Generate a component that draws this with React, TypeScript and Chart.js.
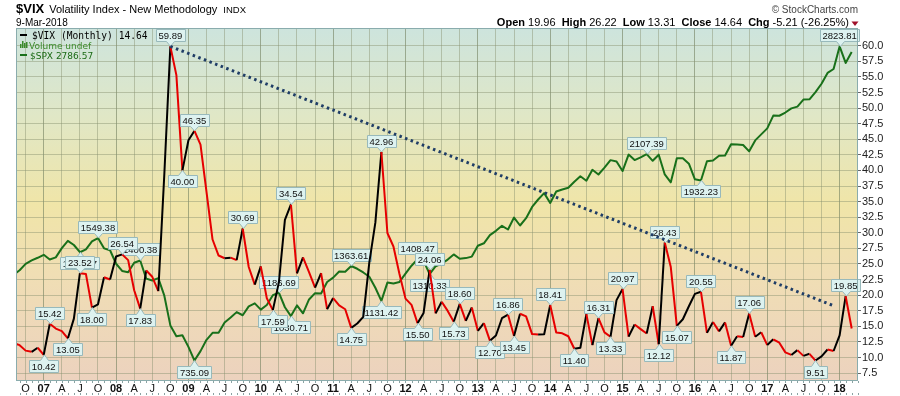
import React, { useEffect, useRef } from "react";
import { Chart, registerables } from "chart.js";
Chart.register(...registerables);

// Monthly closes, Aug 2006 .. Mar 2018 (index 0 = Aug 2006)
const vixValues = [
  12.31, 11.98, 11.10, 10.91, 11.56,
  10.42, 15.42, 14.64, 14.22, 13.05, 16.23, 23.52, 23.38, 18.00, 18.53, 22.87, 22.50,
  26.20, 26.54, 25.61, 20.79, 17.83, 23.95, 22.94, 20.65, 39.39, 59.89, 55.28, 40.00,
  44.84, 46.35, 44.14, 36.50, 28.92, 26.35, 25.92, 26.01, 25.61, 30.69, 24.51, 21.68,
  24.62, 19.50, 17.59, 22.05, 32.07, 34.54, 23.50, 26.05, 23.70, 21.20, 23.54, 17.75,
  19.53, 18.35, 17.74, 14.75, 15.45, 16.52, 25.25, 31.62, 42.96, 29.96, 27.80, 23.40,
  19.44, 18.43, 15.50, 17.15, 24.06, 17.08, 18.93, 17.47, 15.73, 18.60, 15.87, 18.02,
  14.28, 15.51, 12.70, 13.52, 16.30, 16.86, 13.45, 17.01, 16.60, 13.75, 13.70, 13.72,
  18.41, 14.00, 13.88, 13.41, 11.40, 11.57, 16.95, 11.98, 16.31, 14.03, 13.33, 19.20,
  20.97, 13.34, 15.29, 14.55, 13.84, 18.23, 12.12, 28.43, 24.50, 15.07, 16.13, 18.21,
  20.20, 20.55, 13.95, 15.70, 14.19, 15.63, 11.87, 13.42, 13.29, 17.06, 13.33, 14.04,
  11.99, 12.92, 12.37, 10.82, 10.41, 11.18, 10.26, 10.59, 9.51, 10.18, 11.28, 11.04,
  13.54, 19.85, 14.64,
];

const spxValues = [
  1303.82, 1335.85, 1377.94, 1400.63, 1418.30,
  1438.24, 1406.82, 1420.86, 1482.37, 1530.62, 1503.35, 1455.27, 1473.99, 1526.75, 1549.38, 1481.14, 1468.36,
  1378.55, 1330.63, 1322.70, 1385.59, 1400.38, 1280.00, 1267.38, 1282.83, 1166.36, 968.75, 896.24, 903.25,
  825.88, 735.09, 797.87, 872.81, 919.14, 919.32, 987.48, 1020.62, 1057.08, 1036.19, 1095.63, 1115.10,
  1073.87, 1104.49, 1169.43, 1186.69, 1089.41, 1030.71, 1101.60, 1049.33, 1141.20, 1183.26, 1180.55, 1257.64,
  1286.12, 1327.22, 1325.83, 1363.61, 1345.20, 1320.64, 1292.28, 1218.89, 1131.42, 1253.30, 1246.96, 1257.60,
  1312.41, 1365.68, 1408.47, 1397.91, 1310.33, 1362.16, 1379.32, 1406.58, 1440.67, 1412.16, 1416.18, 1426.19,
  1498.11, 1514.68, 1569.19, 1597.57, 1630.74, 1606.28, 1685.73, 1632.97, 1681.55, 1756.54, 1805.81, 1848.36,
  1782.59, 1859.45, 1872.34, 1883.95, 1923.57, 1960.23, 1930.67, 2003.37, 1972.29, 2018.05, 2067.56, 2058.90,
  1994.99, 2104.50, 2067.89, 2085.51, 2107.39, 2063.11, 2103.84, 1972.18, 1920.03, 2079.36, 2080.41, 2043.94,
  1940.24, 1932.23, 2059.74, 2065.30, 2096.95, 2098.86, 2173.60, 2170.95, 2168.27, 2126.15, 2198.81, 2238.83,
  2278.87, 2363.64, 2362.72, 2384.20, 2411.80, 2423.41, 2470.30, 2471.65, 2519.36, 2575.26, 2647.58, 2673.61,
  2823.81, 2713.83, 2786.57,
];

// Annotated highs (a) and lows (b): [index, position]
const vixTags: [number, "a" | "b"][] = [
  [5, "b"], [6, "a"], [9, "b"], [11, "a"], [13, "b"], [18, "a"], [21, "b"], [26, "a"], [28, "b"],
  [30, "a"], [38, "a"], [43, "b"], [46, "a"], [56, "b"], [61, "a"], [67, "b"], [69, "a"], [73, "b"],
  [74, "a"], [79, "b"], [82, "a"], [83, "b"], [89, "a"], [93, "b"], [97, "a"], [99, "b"], [101, "a"],
  [107, "b"], [108, "a"], [110, "b"], [114, "a"], [119, "b"], [122, "a"], [133, "b"], [138, "a"],
];
const spxTags: [number, "a" | "b"][] = [
  [11, "b"], [14, "a"], [21, "a"], [30, "b"], [44, "a"], [46, "b"], [56, "a"], [61, "b"],
  [67, "a"], [69, "b"], [105, "a"], [114, "b"], [137, "a"],
];

// Trend line endpoints [index, value]
const trendPoints: [number, number][] = [[26, 59.89], [136, 18.3]];

const xTickStart = 2; // Oct 2006
const xTickLabels = [
  "O", "07", "A", "J", "O", "08", "A", "J", "O", "09", "A", "J", "O", "10", "A", "J",
  "O", "11", "A", "J", "O", "12", "A", "J", "O", "13", "A", "J", "O", "14", "A", "J",
  "O", "15", "A", "J", "O", "16", "A", "J", "O", "17", "A", "J", "O", "18",
];
const yTickValues = [
  7.5, 10, 12.5, 15, 17.5, 20, 22.5, 25, 27.5, 30, 32.5, 35, 37.5, 40, 42.5, 45, 47.5, 50, 52.5, 55, 57.5, 60,
];

const titleSymbol = "$VIX";
const titleName = "Volatility Index - New Methodology";
const titleExchange = "INDX";
const titleDate = "9-Mar-2018";
const ohlc: [string, string][] = [
  ["Open", "19.96"], ["High", "26.22"], ["Low", "13.31"], ["Close", "14.64"], ["Chg", "-5.21 (-26.25%)"],
];
const legendVix = "$VIX (Monthly) 14.64";
const legendVol = "Volume undef";
const legendSpx = "$SPX 2786.57";

const Y_MIN = 6.39;
const Y_MAX = 62.84;
const vixMin = Math.min(...vixValues);
const vixMax = Math.max(...vixValues);
const spxMin = Math.min(...spxValues);
const spxMax = Math.max(...spxValues);
const k = (spxMax - spxMin) / (vixMax - vixMin);
const Y2_MIN = spxMin - (vixMin - Y_MIN) * k;
const Y2_MAX = spxMax + (Y_MAX - vixMax) * k;

const SANS = '"Liberation Sans", Arial, sans-serif';
const GREEN = "#19701a";
const RED = "#e60000";

function drawTag(ctx: CanvasRenderingContext2D, px: number, py: number, text: string, above: boolean) {
  ctx.save();
  ctx.font = `9.5px ${SANS}`;
  const tw = ctx.measureText(text).width;
  const w = Math.round(tw + 5);
  const h = 12;
  const ph = 5;
  const cx = Math.round(px) + 0.5;
  const left = Math.round(px - w / 2) + 0.5;
  const top = above ? Math.round(py - ph - h) + 0.5 : Math.round(py + ph) + 0.5;
  const bottom = top + h;
  ctx.beginPath();
  if (above) {
    ctx.moveTo(left, top);
    ctx.lineTo(left + w, top);
    ctx.lineTo(left + w, bottom);
    ctx.lineTo(cx + 4, bottom);
    ctx.lineTo(cx, py);
    ctx.lineTo(cx - 4, bottom);
    ctx.lineTo(left, bottom);
  } else {
    ctx.moveTo(left, top);
    ctx.lineTo(cx - 4, top);
    ctx.lineTo(cx, py);
    ctx.lineTo(cx + 4, top);
    ctx.lineTo(left + w, top);
    ctx.lineTo(left + w, bottom);
    ctx.lineTo(left, bottom);
  }
  ctx.closePath();
  ctx.fillStyle = "#ddf2f0";
  ctx.fill();
  ctx.strokeStyle = "#98b9bb";
  ctx.lineWidth = 1;
  ctx.stroke();
  ctx.fillStyle = "#111";
  ctx.textAlign = "center";
  ctx.textBaseline = "middle";
  ctx.fillText(text, px, top + h / 2 + 0.5);
  ctx.restore();
}

const decorPlugin = {
  id: "decor",
  beforeDraw(chart: any) {
    const { ctx, chartArea: a } = chart;
    ctx.save();
    const g = ctx.createLinearGradient(0, a.top, 0, a.bottom);
    g.addColorStop(0, "rgb(205,228,221)");
    g.addColorStop(0.25, "rgb(224,231,198)");
    g.addColorStop(0.5, "rgb(240,229,168)");
    g.addColorStop(0.7, "rgb(240,222,180)");
    g.addColorStop(1, "rgb(236,210,190)");
    ctx.fillStyle = g;
    ctx.fillRect(a.left, a.top, a.right - a.left, a.bottom - a.top);

    // header
    ctx.fillStyle = "#000";
    ctx.textBaseline = "alphabetic";
    ctx.textAlign = "left";
    ctx.font = `bold 13px ${SANS}`;
    ctx.fillText(titleSymbol, 16, 13);
    let x = 16 + ctx.measureText(titleSymbol).width + 5;
    ctx.font = `11px ${SANS}`;
    ctx.fillText(titleName, x, 13);
    x += ctx.measureText(titleName).width + 6;
    ctx.font = `9.5px ${SANS}`;
    ctx.fillText(titleExchange, x, 13);
    ctx.font = `10px ${SANS}`;
    ctx.fillText(titleDate, 16, 26);

    ctx.textAlign = "right";
    ctx.fillStyle = "#444";
    ctx.font = `10px ${SANS}`;
    ctx.fillText("\u00A9 StockCharts.com", 858, 13);

    // OHLC line
    ctx.textAlign = "left";
    ctx.fillStyle = "#000";
    const parts: [string, boolean][] = [];
    ohlc.forEach(([l, v], i) => {
      parts.push([l + " ", true]);
      parts.push([v + (i < ohlc.length - 1 ? "  " : ""), false]);
    });
    let total = 0;
    parts.forEach(([t, b]) => {
      ctx.font = `${b ? "bold " : ""}11px ${SANS}`;
      total += ctx.measureText(t).width;
    });
    let ox = 849 - total;
    parts.forEach(([t, b]) => {
      ctx.font = `${b ? "bold " : ""}11px ${SANS}`;
      ctx.fillText(t, ox, 26);
      ox += ctx.measureText(t).width;
    });
    ctx.fillStyle = "#a0102a";
    ctx.beginPath();
    ctx.moveTo(851.5, 21.5);
    ctx.lineTo(858.5, 21.5);
    ctx.lineTo(855, 26);
    ctx.closePath();
    ctx.fill();
    ctx.restore();
  },
  afterDatasetDraw(chart: any, args: any) {
    const ctx = chart.ctx;
    const xs = chart.scales.x;
    if (args.index === 2) {
      const ys = chart.scales.y2;
      spxTags.forEach(([i, pos]) => {
        drawTag(ctx, xs.getPixelForValue(i), ys.getPixelForValue(spxValues[i]), spxValues[i].toFixed(2), pos === "a");
      });
    } else if (args.index === 1) {
      const ys = chart.scales.y;
      vixTags.forEach(([i, pos]) => {
        drawTag(ctx, xs.getPixelForValue(i), ys.getPixelForValue(vixValues[i]), vixValues[i].toFixed(2), pos === "a");
      });
    }
  },
  afterDraw(chart: any) {
    const { ctx, chartArea: a } = chart;
    const xs = chart.scales.x;
    ctx.save();
    // border
    ctx.strokeStyle = "#8aacad";
    ctx.lineWidth = 1;
    ctx.strokeRect(a.left + 0.5, a.top + 0.5, a.right - a.left - 1, a.bottom - a.top);
    // monthly tick dots
    ctx.fillStyle = "rgba(110,140,140,0.8)";
    for (let i = 0; i < vixValues.length + 1; i++) {
      const px = Math.round(xs.getPixelForValue(i));
      if (px < a.left || px > a.right) continue;
      ctx.fillRect(px, a.bottom + 1, 1, 2);
      ctx.fillRect(px, 393, 1, 2);
    }
    // legend
    ctx.textAlign = "left";
    ctx.textBaseline = "alphabetic";
    ctx.fillStyle = "#000";
    ctx.fillRect(20, 34, 7, 2);
    ctx.font = `9.6px "DejaVu Sans Mono", monospace`;
    ctx.fillText(legendVix, 32, 38.5);
    ctx.fillStyle = "#3a8a2a";
    const bars = [4, 7, 5, 6];
    bars.forEach((h, j) => ctx.fillRect(20 + j * 2, 48 - h, 1.5, h));
    ctx.font = `9px "DejaVu Sans", sans-serif`;
    ctx.fillText(legendVol, 29, 48.5);
    ctx.fillStyle = GREEN;
    ctx.fillRect(20, 54, 7, 2);
    ctx.fillStyle = "#1a6a14";
    ctx.fillText(legendSpx, 30, 58.5);
    ctx.restore();
  },
};

const isYear = (idx: number) => /^\d/.test(xTickLabels[idx] || "");

export default function App() {
  const ref = useRef<HTMLCanvasElement>(null);
  useEffect(() => {
    document.body.style.margin = "0";
    const chart = new Chart(ref.current as HTMLCanvasElement, {
      type: "line",
      data: {
        datasets: [
          {
            label: "trend",
            data: trendPoints.map(([x, y]) => ({ x, y })),
            borderColor: "#1f3d66",
            borderWidth: 3,
            borderDash: [2.5, 3.5],
            pointRadius: 0,
            yAxisID: "y",
            order: 1,
            clip: 0,
          },
          {
            label: "VIX",
            data: vixValues.map((y, x) => ({ x, y })),
            borderColor: "#000",
            borderWidth: 2,
            pointRadius: 0,
            yAxisID: "y",
            order: 2,
            clip: 0,
            segment: {
              borderColor: (c: any) => (c.p1.parsed.y >= c.p0.parsed.y ? "#000" : RED),
            },
          },
          {
            label: "SPX",
            data: spxValues.map((y, x) => ({ x, y })),
            borderColor: GREEN,
            borderWidth: 2,
            pointRadius: 0,
            yAxisID: "y2",
            order: 3,
            clip: 0,
          },
        ] as any,
      },
      options: {
        animation: false,
        responsive: false,
        events: [],
        layout: { padding: { left: 16, top: 28, right: 0, bottom: 0 } },
        elements: { line: { tension: 0, borderJoinStyle: "round" as any } },
        plugins: { legend: { display: false }, tooltip: { enabled: false } },
        scales: {
          x: {
            type: "linear",
            min: 0.4,
            max: 140.05,
            afterBuildTicks: (s: any) => {
              s.ticks = xTickLabels.map((_, j) => ({ value: xTickStart + 3 * j }));
            },
            afterFit: (s: any) => {
              s.height = 16;
            },
            border: { display: false },
            grid: {
              drawTicks: false,
              color: (c: any) => (isYear(c.index) ? "rgba(115,128,95,0.6)" : "rgba(135,145,110,0.45)"),
            },
            ticks: {
              autoSkip: false,
              maxRotation: 0,
              padding: 2,
              color: "#111",
              font: (c: any) => ({ family: SANS, size: 11, weight: isYear(c.index) ? "bold" : "normal" }),
              callback: (_v: any, idx: number) => xTickLabels[idx],
            },
          },
          y: {
            position: "right",
            min: Y_MIN,
            max: Y_MAX,
            afterBuildTicks: (s: any) => {
              s.ticks = yTickValues.map((v) => ({ value: v }));
            },
            afterFit: (s: any) => {
              s.width = 42;
            },
            border: { display: false },
            grid: { color: "rgba(135,145,110,0.45)", tickLength: 3, tickColor: "#666" },
            ticks: {
              padding: 1,
              color: "#222",
              font: { family: SANS, size: 11 },
              callback: (v: any) => Number(v).toFixed(1),
            },
          },
          y2: { display: false, min: Y2_MIN, max: Y2_MAX },
        } as any,
      },
      plugins: [decorPlugin as any],
    });
    return () => chart.destroy();
  }, []);
  return (
    <div style={{ position: "relative", width: 900, height: 396 }}>
      <canvas ref={ref} width={900} height={396} style={{ display: "block", width: 900, height: 396 }} />
    </div>
  );
}
